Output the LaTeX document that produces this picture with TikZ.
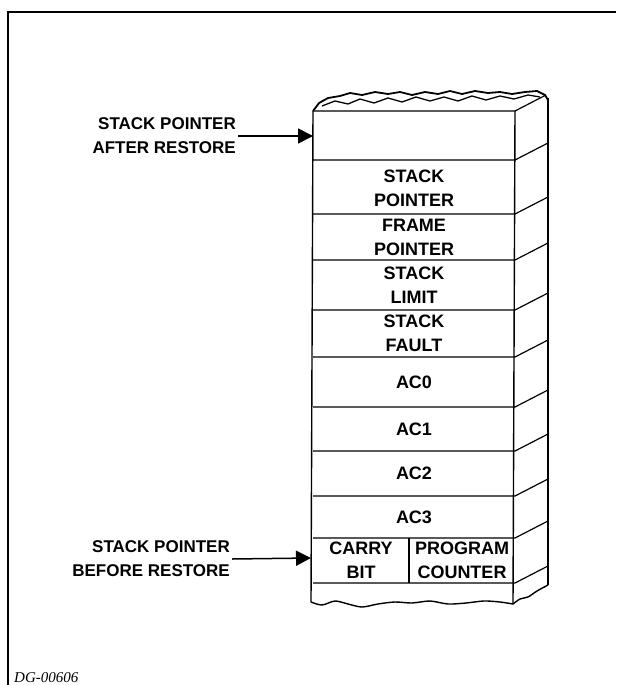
\documentclass[tikz,border=0pt]{standalone}
\usepackage{fontspec}
\setmainfont{Liberation Sans}
\newfontfamily\dgfont{Liberation Serif}
\usetikzlibrary{arrows.meta}

\begin{document}
\begin{tikzpicture}[x=1pt, y=-1pt,
    cell/.style={font=\fontsize{18}{24}\selectfont\bfseries, align=center, inner sep=0pt},
    splabel/.style={font=\fontsize{17}{24}\selectfont\bfseries, align=right, anchor=east, inner sep=2pt},
    ptr/.style={line width=1.5pt, -{Triangle[length=15pt, width=15pt]}}]
  \useasboundingbox (0,0) rectangle (616,685);
  % page frame, open on the right and at the bottom
  \draw[line width=1.6pt] (8,685) -- (8,12) -- (616,12);

  % torn-off top of the stack
  \draw[line width=1.8pt, fill=white] (313,111) -- (319,103) -- (328,98) -- (340,96) -- (350,93)
    -- (362,95) -- (375,92) -- (388,94) -- (400,92) -- (412,95) -- (425,92) -- (438,94)
    -- (450,91) -- (462,94) -- (475,91) -- (488,93) -- (500,92) -- (512,94) -- (525,92)
    -- (537,91) -- (545,95) -- (548,100);
  \draw[line width=1.3pt] (322,106) -- (335,101) -- (348,104) -- (360,99) -- (374,103) -- (388,98)
    -- (402,102) -- (416,97) -- (430,101) -- (444,97) -- (458,101) -- (472,96) -- (486,100)
    -- (500,96) -- (514,99) -- (528,95) -- (540,97);
  \draw[line width=1.2pt] (313,111) -- (515,111) -- (546,95);

  % front and side edges
  \draw[line width=1.4pt] (313,111) -- (311,602);
  \draw[line width=1.4pt] (515,111) -- (513,604);
  \draw[line width=2.4pt] (548,98) -- (548,585);
  \foreach \y in {160,214,260,310,357,407,451,496,538,583}
    \draw[line width=1.2pt] (313,\y) -- (515,\y) -- ++(33,-17);
  \draw[line width=1.2pt] (409,538) -- (409,583);

  % torn-off bottom
  \draw[line width=1.4pt] plot[smooth] coordinates {(311,602) (322,605) (335,601) (348,604)
    (362,607) (378,604) (395,602) (412,603) (430,601) (448,604) (466,603) (484,601)
    (500,602) (513,604)};
  \draw[line width=1.4pt] plot[smooth] coordinates {(513,604) (520,599) (528,597) (537,591) (548,585)};

  % registers saved on the stack
  \node[cell] (spreg) at (414,188) {STACK\\POINTER};
  \node[cell] (fpreg) at (414,237) {FRAME\\POINTER};
  \node[cell] (slreg) at (414,285) {STACK\\LIMIT};
  \node[cell] (sfreg) at (414,333) {STACK\\FAULT};
  \node[cell] (ac0) at (414,382) {AC0};
  \node[cell] (ac1) at (414,429) {AC1};
  \node[cell] (ac2) at (414,473) {AC2};
  \node[cell] (ac3) at (414,517) {AC3};
  \node[cell] (carry) at (361,560) {CARRY\\BIT};
  \node[cell] (pc) at (462,560) {PROGRAM\\COUNTER};

  % stack pointer positions
  \coordinate (aftertip) at (313,136);
  \coordinate (beforetip) at (311,558);
  \node[splabel] (after) at (238,136) {STACK POINTER\\AFTER RESTORE};
  \node[splabel] (before) at (232,559) {STACK POINTER\\BEFORE RESTORE};
  \draw[ptr] (after.east) -- (aftertip);
  \draw[ptr] (before.east) -- (beforetip);

  \node[font=\dgfont\itshape\fontsize{15}{18}\selectfont, anchor=base west, inner sep=0pt]
    (dg) at (14,682) {DG-00606};
\end{tikzpicture}
\end{document}
